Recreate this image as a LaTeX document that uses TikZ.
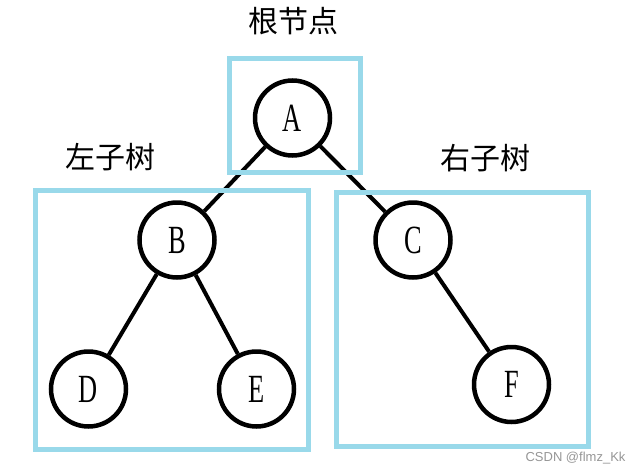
\documentclass[tikz,border=0pt]{standalone}
\usepackage{fontspec}
\setmainfont{Liberation Serif}
\newfontfamily\cjk{Noto Sans CJK SC}
\newfontfamily\wmfont{Liberation Sans}
\definecolor{boxblue}{RGB}{153,217,234}
\definecolor{wmgray}{RGB}{150,150,150}
\newcommand{\lt}[1]{\scalebox{0.66}[1]{#1}}
\tikzset{
  treenode/.style={circle, draw=black, line width=4.5pt, minimum size=75pt, inner sep=0pt, fill=white, font=\fontsize{40}{40}\selectfont},
  edge/.style={draw=black, line width=4pt},
  region/.style={draw=boxblue, line width=5pt},
  cnlabel/.style={font=\cjk\fontsize{30}{30}\selectfont, inner sep=0pt},
}
\begin{document}
\begin{tikzpicture}[x=1pt,y=-1pt]
\useasboundingbox (0,0) rectangle (637,474);
\node[treenode] (A) at (292.5,118) {\lt{A}};
\node[treenode] (B) at (177,240) {\lt{B}};
\node[treenode] (C) at (413,240) {\lt{C}};
\node[treenode] (D) at (88.5,389) {\lt{D}};
\node[treenode] (E) at (256.5,389) {\lt{E}};
\node[treenode] (F) at (511.5,384.5) {\lt{F}};
\draw[edge] (A) -- (B);
\draw[edge] (A) -- (C);
\draw[edge] (B) -- (D);
\draw[edge] (B) -- (E);
\draw[edge] (C) -- (F);
\draw[region] (229.5,58.5) rectangle (360.5,172.5);
\draw[region] (35.5,190.5) rectangle (308,449);
\draw[region] (336.5,192) rectangle (588.5,446.5);
\node[cnlabel] (lroot) at (293,21) {根节点};
\node[cnlabel] (lleft) at (110,157.5) {左子树};
\node[cnlabel] (lright) at (485.5,158.5) {右子树};
\node[font=\wmfont\fontsize{13}{13}\selectfont, text=wmgray, inner sep=0pt] (wm) at (575.5,458) {CSDN @flmz\_Kk};
\end{tikzpicture}
\end{document}
